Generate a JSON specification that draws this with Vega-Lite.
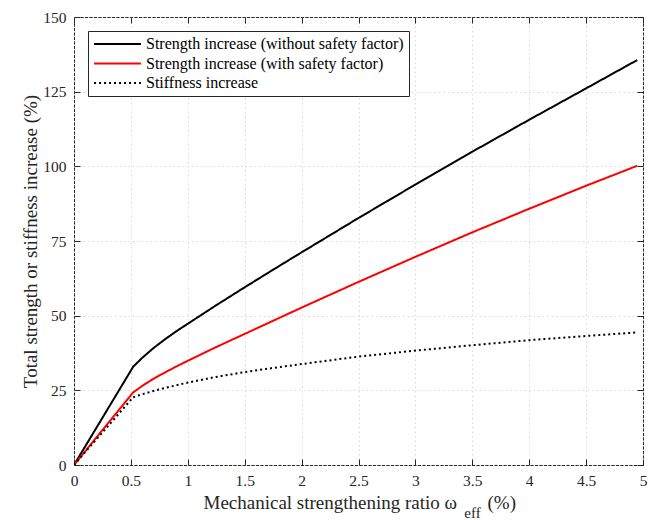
{
  "$schema": "https://vega.github.io/schema/vega-lite/v6.json",
  "autosize": "none",
  "width": 569,
  "height": 448,
  "padding": {"left": 74, "top": 17, "right": 13, "bottom": 55},
  "background": "white",
  "config": {
    "font": "Liberation Serif",
    "view": {"stroke": "#262626", "strokeWidth": 1},
    "axis": {
      "domain": false,
      "labelFont": "Liberation Serif",
      "labelFontSize": 15.5,
      "labelColor": "#262626",
      "labelFlush": false,
      "titleFont": "Liberation Serif",
      "titleFontWeight": "normal",
      "titleColor": "#262626",
      "tickColor": "#262626",
      "tickSize": -6,
      "labelPadding": 14,
      "gridColor": "#d9d9d9",
      "gridDash": [1.5, 3],
      "gridWidth": 1
    },
    "legend": {
      "labelFont": "Liberation Serif"
    }
  },
  "data": {
    "values": [
      {"x": 0, "y": 0, "series": "Strength increase (without safety factor)"},
      {"x": 0.52, "y": 32.9, "series": "Strength increase (without safety factor)"},
      {"x": 0.6, "y": 35.9, "series": "Strength increase (without safety factor)"},
      {"x": 0.7, "y": 39.2, "series": "Strength increase (without safety factor)"},
      {"x": 0.8, "y": 42.1, "series": "Strength increase (without safety factor)"},
      {"x": 0.9, "y": 44.8, "series": "Strength increase (without safety factor)"},
      {"x": 1, "y": 47.3, "series": "Strength increase (without safety factor)"},
      {"x": 1.25, "y": 53.5, "series": "Strength increase (without safety factor)"},
      {"x": 1.5, "y": 59.5, "series": "Strength increase (without safety factor)"},
      {"x": 1.75, "y": 65.4, "series": "Strength increase (without safety factor)"},
      {"x": 2, "y": 71.2, "series": "Strength increase (without safety factor)"},
      {"x": 2.5, "y": 82.7, "series": "Strength increase (without safety factor)"},
      {"x": 3, "y": 93.9, "series": "Strength increase (without safety factor)"},
      {"x": 3.5, "y": 104.9, "series": "Strength increase (without safety factor)"},
      {"x": 4, "y": 115.6, "series": "Strength increase (without safety factor)"},
      {"x": 4.5, "y": 126.1, "series": "Strength increase (without safety factor)"},
      {"x": 4.95, "y": 135.6, "series": "Strength increase (without safety factor)"},

      {"x": 0, "y": 0, "series": "Strength increase (with safety factor)"},
      {"x": 0.52, "y": 24.3, "series": "Strength increase (with safety factor)"},
      {"x": 0.6, "y": 26.5, "series": "Strength increase (with safety factor)"},
      {"x": 0.7, "y": 28.9, "series": "Strength increase (with safety factor)"},
      {"x": 0.8, "y": 31.0, "series": "Strength increase (with safety factor)"},
      {"x": 0.9, "y": 33.0, "series": "Strength increase (with safety factor)"},
      {"x": 1, "y": 34.9, "series": "Strength increase (with safety factor)"},
      {"x": 1.25, "y": 39.5, "series": "Strength increase (with safety factor)"},
      {"x": 1.5, "y": 43.9, "series": "Strength increase (with safety factor)"},
      {"x": 1.75, "y": 48.3, "series": "Strength increase (with safety factor)"},
      {"x": 2, "y": 52.7, "series": "Strength increase (with safety factor)"},
      {"x": 2.5, "y": 61.3, "series": "Strength increase (with safety factor)"},
      {"x": 3, "y": 69.7, "series": "Strength increase (with safety factor)"},
      {"x": 3.5, "y": 77.9, "series": "Strength increase (with safety factor)"},
      {"x": 4, "y": 85.8, "series": "Strength increase (with safety factor)"},
      {"x": 4.5, "y": 93.5, "series": "Strength increase (with safety factor)"},
      {"x": 4.95, "y": 100.2, "series": "Strength increase (with safety factor)"},

      {"x": 0, "y": 0, "series": "Stiffness increase"},
      {"x": 0.52, "y": 22.7, "series": "Stiffness increase"},
      {"x": 0.6, "y": 23.7, "series": "Stiffness increase"},
      {"x": 0.7, "y": 24.8, "series": "Stiffness increase"},
      {"x": 0.8, "y": 25.8, "series": "Stiffness increase"},
      {"x": 0.9, "y": 26.7, "series": "Stiffness increase"},
      {"x": 1, "y": 27.6, "series": "Stiffness increase"},
      {"x": 1.25, "y": 29.5, "series": "Stiffness increase"},
      {"x": 1.5, "y": 31.1, "series": "Stiffness increase"},
      {"x": 1.75, "y": 32.5, "series": "Stiffness increase"},
      {"x": 2, "y": 33.8, "series": "Stiffness increase"},
      {"x": 2.5, "y": 36.3, "series": "Stiffness increase"},
      {"x": 3, "y": 38.3, "series": "Stiffness increase"},
      {"x": 3.5, "y": 40.1, "series": "Stiffness increase"},
      {"x": 4, "y": 41.8, "series": "Stiffness increase"},
      {"x": 4.5, "y": 43.2, "series": "Stiffness increase"},
      {"x": 4.95, "y": 44.4, "series": "Stiffness increase"}
    ]
  },
  "resolve": {"axis": {"x": "independent", "y": "independent"}},
  "layer": [
    {
      "mark": {"type": "line", "strokeWidth": 2, "clip": true},
      "encoding": {
        "x": {
          "field": "x", "type": "quantitative",
          "scale": {"domain": [0, 5], "nice": false},
          "axis": {
            "orient": "bottom",
            "values": [0, 0.5, 1, 1.5, 2, 2.5, 3, 3.5, 4, 4.5, 5],
            "format": "~f",
            "grid": true,
            "title": "Mechanical strengthening ratio ω",
            "titleFontSize": 19,
            "titleAlign": "left",
            "titleBaseline": "alphabetic",
            "titleX": 129,
            "titleY": 43
          }
        },
        "y": {
          "field": "y", "type": "quantitative",
          "scale": {"domain": [0, 150], "nice": false},
          "axis": {
            "orient": "left",
            "values": [0, 25, 50, 75, 100, 125, 150],
            "format": "d",
            "grid": true,
            "title": "Total strength or stiffness increase (%)",
            "titleFontSize": 19,
            "titleAngle": -90,
            "titleBaseline": "middle",
            "titleAlign": "center",
            "titleX": -44,
            "titleY": 224
          }
        },
        "color": {
          "field": "series", "type": "nominal",
          "scale": {
            "domain": ["Strength increase (without safety factor)", "Strength increase (with safety factor)", "Stiffness increase"],
            "range": ["#000000", "#ff0000", "#000000"]
          },
          "legend": {
            "title": null,
            "orient": "top-left",
            "offset": 14,
            "symbolType": "stroke",
            "symbolSize": 2200,
            "symbolStrokeWidth": 2,
            "labelFontSize": 16,
            "labelColor": "#000000",
            "labelLimit": 400,
            "labelOffset": 4,
            "clipHeight": 16,
            "rowPadding": 3.5,
            "padding": 5,
            "strokeColor": "#262626",
            "fillColor": "white",
            "cornerRadius": 0
          }
        },
        "strokeDash": {
          "field": "series", "type": "nominal",
          "scale": {
            "domain": ["Strength increase (without safety factor)", "Strength increase (with safety factor)", "Stiffness increase"],
            "range": [[1, 0], [1, 0], [2, 3]]
          },
          "legend": null
        }
      }
    },
    {
      "mark": {"type": "line", "opacity": 0},
      "encoding": {
        "x": {
          "field": "x", "type": "quantitative",
          "scale": {"domain": [0, 5], "nice": false},
          "axis": {
            "orient": "top",
            "values": [0, 0.5, 1, 1.5, 2, 2.5, 3, 3.5, 4, 4.5, 5],
            "labels": false,
            "grid": false,
            "title": "eff",
            "titleFontSize": 15,
            "titleAlign": "center",
            "titleBaseline": "alphabetic",
            "titleX": 398,
            "titleY": 500
          }
        },
        "y": {
          "field": "y", "type": "quantitative",
          "scale": {"domain": [0, 150], "nice": false},
          "axis": {
            "orient": "right",
            "values": [0, 25, 50, 75, 100, 125, 150],
            "labels": false,
            "grid": false,
            "title": "(%)",
            "titleFontSize": 19,
            "titleAngle": 0,
            "titleAlign": "left",
            "titleBaseline": "alphabetic",
            "titleX": -156,
            "titleY": 491
          }
        },
        "detail": {"field": "series", "type": "nominal"}
      }
    }
  ]
}
